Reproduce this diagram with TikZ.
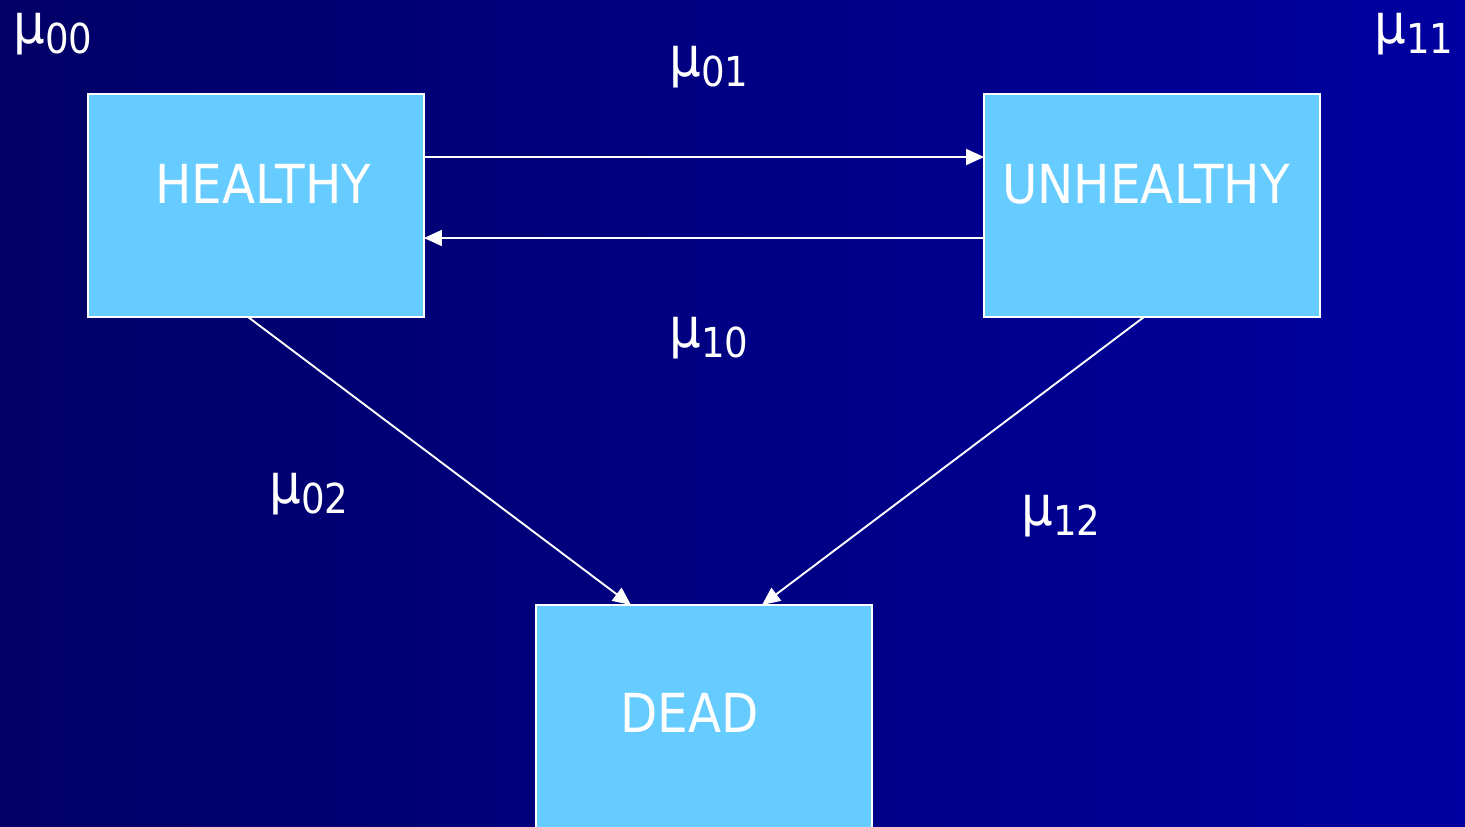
\documentclass[tikz,border=0pt]{standalone}
\usepackage{fontspec}
\setmainfont{DejaVu Sans}[FakeStretch=0.9]
\usetikzlibrary{arrows.meta}
\definecolor{bgleft}{RGB}{0,0,102}
\definecolor{bgright}{RGB}{0,0,160}
\definecolor{boxblue}{RGB}{102,204,255}
\tikzset{
  statebox/.style={draw=white, line width=0.4mm, fill=boxblue, rectangle, outer sep=0pt, inner sep=0pt, minimum width=6.72cm},
  boxtext/.style={text=white, anchor=base west, inner sep=0pt, font=\fontsize{30.6}{36}\selectfont},
  mulabel/.style={text=white, anchor=base west, inner sep=0pt, font=\fontsize{31.5}{36}\selectfont},
  arr/.style={draw=white, line width=0.38mm, -{Triangle[length=3.6mm,width=3.2mm]}}
}
\newcommand{\mysub}[1]{\raisebox{-2.1mm}{\fontsize{23.5}{28}\selectfont #1}}
\begin{document}
\begin{tikzpicture}[x=0.02cm, y=-0.02cm]
\useasboundingbox (0,0) rectangle (1465,826);
\shade[left color=bgleft, right color=bgright] (0,0) rectangle (1465,826);
% boxes
\node[statebox, minimum height=4.46cm] (H) at (256,205.5) {};
\node[statebox, minimum height=4.46cm] (U) at (1152,205.5) {};
\node[statebox, minimum height=4.7cm] (D) at (704,722.5) {};
% box texts
\node[boxtext] (Ht) at (155,203) {HEALTHY};
\node[boxtext] (Ut) at (1002,203) {UNHEALTHY};
\node[boxtext] (Dt) at (620,732) {DEAD};
% connectors
\draw[arr] ([yshift=0.97cm]H.east) -- ([yshift=0.97cm]U.west);
\draw[arr] ([yshift=-0.65cm]U.west) -- ([yshift=-0.65cm]H.east);
\draw[arr] ([xshift=-0.16cm]H.south) -- ([xshift=-1.46cm]D.north);
\draw[arr] ([xshift=-0.16cm]U.south) -- ([xshift=1.16cm]D.north);
% labels
\node[mulabel] (m00) at (13,43) {μ\mysub{00}};
\node[mulabel] (m01) at (669,76) {μ\mysub{01}};
\node[mulabel] (m11) at (1374,43) {μ\mysub{11}};
\node[mulabel] (m10) at (669,347) {μ\mysub{10}};
\node[mulabel] (m02) at (269,503) {μ\mysub{02}};
\node[mulabel] (m12) at (1021,525) {μ\mysub{12}};
\end{tikzpicture}
\end{document}
